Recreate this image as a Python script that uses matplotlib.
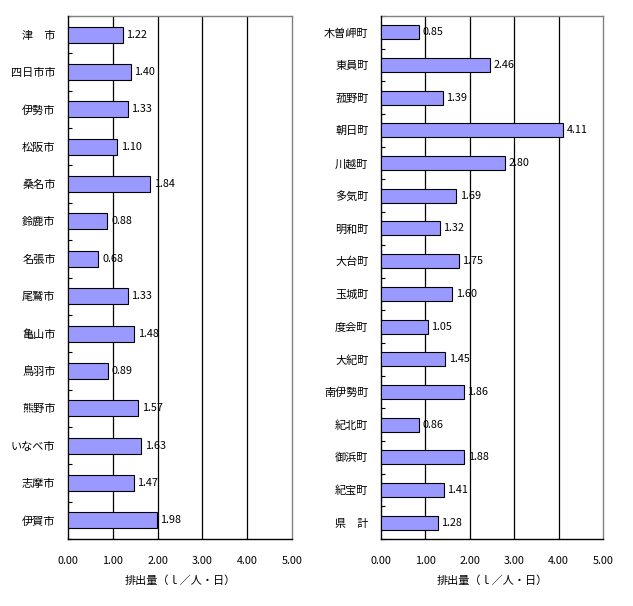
import numpy as np
import matplotlib.pyplot as plt

plt.rcParams['font.family'] = ['Noto Sans CJK JP', 'DejaVu Sans']

# ==========================================
# Data (top to bottom)
# ==========================================
cities = ['津　市', '四日市市', '伊勢市', '松阪市', '桑名市', '鈴鹿市', '名張市',
          '尾鷲市', '亀山市', '鳥羽市', '熊野市', 'いなべ市', '志摩市', '伊賀市']
city_vals = [1.22, 1.40, 1.33, 1.10, 1.84, 0.88, 0.68,
             1.33, 1.48, 0.89, 1.57, 1.63, 1.47, 1.98]

towns = ['木曽岬町', '東員町', '菰野町', '朝日町', '川越町', '多気町', '明和町',
         '大台町', '玉城町', '度会町', '大紀町', '南伊勢町', '紀北町', '御浜町',
         '紀宝町', '県　計']
town_vals = [0.85, 2.46, 1.39, 4.11, 2.80, 1.69, 1.32,
             1.75, 1.60, 1.05, 1.45, 1.86, 0.86, 1.88,
             1.41, 1.28]

xticks = [0, 1, 2, 3, 4, 5]
xlabel = '排出量（ｌ／人・日）'

W, H = 633, 606
fig = plt.figure(figsize=(W / 100, H / 100), dpi=100)


def draw(ax, names, vals):
    n = len(names)
    y = np.arange(n)
    ax.barh(y, vals, height=0.43, color='#9999FF', edgecolor='black',
            linewidth=0.8, zorder=3)
    for yi, v in zip(y, vals):
        ax.text(v + 0.08, yi, f'{v:.2f}', va='center', ha='left',
                fontsize=7.8, zorder=4)
    ax.set_xlim(0, 5)
    ax.set_ylim(n - 0.5, -0.5)
    ax.set_yticks(y)
    ax.set_yticklabels(names, fontsize=8)
    ax.set_yticks(np.arange(n + 1) - 0.5, minor=True)
    ax.tick_params(axis='y', which='major', length=0, pad=9)
    ax.tick_params(axis='y', which='minor', direction='in', length=3,
                   width=0.8)
    ax.set_xticks(xticks)
    ax.set_xticklabels([f'{t:.2f}' for t in xticks], fontsize=7.8)
    ax.tick_params(axis='x', length=0, pad=12)
    ax.set_xlabel(xlabel, fontsize=8, labelpad=7)
    for t in xticks[1:-1]:
        ax.axvline(t, color='black', linewidth=0.9, zorder=1)
    ax.spines['left'].set_color('black')
    ax.spines['bottom'].set_color('black')
    ax.spines['left'].set_linewidth(1.0)
    ax.spines['bottom'].set_linewidth(1.0)
    ax.spines['top'].set_visible(False)
    ax.spines['right'].set_color('#808080')
    ax.spines['right'].set_linewidth(1.0)


ax1 = fig.add_axes([68 / W, 1 - 539 / H, (292 - 68) / W, (539 - 16) / H])
draw(ax1, cities, city_vals)
ax1.plot([0, 1], [1, 1], transform=ax1.transAxes, color='#808080',
         linewidth=1.0, clip_on=False)

ax2 = fig.add_axes([381 / W, 1 - 539 / H, (603 - 381) / W, (539 - 16) / H])
draw(ax2, towns, town_vals)
ax2.plot([0, 1], [1, 1], transform=ax2.transAxes, color='#808080',
         linewidth=1.0, clip_on=False)

fig.savefig('out.png', dpi=100)
